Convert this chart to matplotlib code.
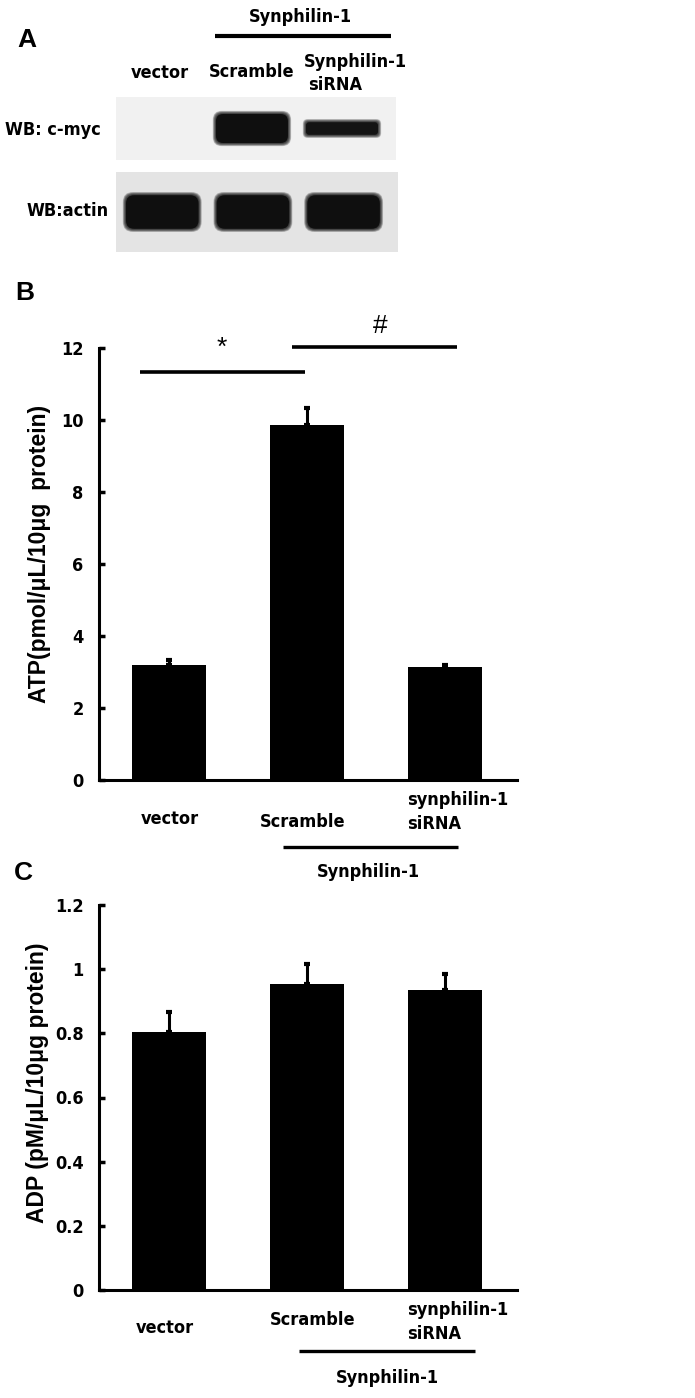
#!/usr/bin/env python3

# import packages
import matplotlib
matplotlib.use('Agg')
import matplotlib.pyplot as plt
from matplotlib.lines import Line2D
from matplotlib.patches import FancyBboxPatch
import numpy as np

# figure size in pixels
W, H = 695, 1398

# data
groups = ['vector', 'Scramble', 'synphilin-1\nsiRNA']
atp_mean = [3.2, 9.87, 3.15]
atp_err = [0.12, 0.45, 0.05]
adp_mean = [0.805, 0.955, 0.935]
adp_err = [0.06, 0.06, 0.05]
atp_ticks = [0, 2, 4, 6, 8, 10, 12]
adp_ticks = [0, 0.2, 0.4, 0.6, 0.8, 1, 1.2]
adp_ticklabels = ['0', '0.2', '0.4', '0.6', '0.8', '1', '1.2']

# western blot: relative band thickness per lane (fraction of strip height)
cmyc_band = [0.0, 0.46, 0.2]
cmyc_dark = [0.0, 1.0, 0.85]
actin_band = [0.42, 0.42, 0.42]
actin_dark = [1.0, 1.0, 1.0]

# significance bars for panel B: (x start, x end, y, symbol, symbol x, symbol y)
sig = [(-0.21, 0.985, 11.33, '*', 0.385, 12.0),
       (0.89, 2.085, 12.03, '#', 1.53, 12.6)]

NARROW = dict(family='DejaVu Sans', stretch='condensed', fontweight='bold')
WIDE = dict(family='Liberation Sans', fontweight='bold')


def box(x0, y0, x1, y1):
    # pixel box -> figure fraction [left, bottom, width, height]
    return [x0 / W, 1 - y1 / H, (x1 - x0) / W, (y1 - y0) / H]


def ftext(x, y, s, size=13, font=NARROW, **kw):
    fig.text(x / W, 1 - y / H, s, fontsize=size,
             ha=kw.pop('ha', 'center'), va=kw.pop('va', 'center'), **font, **kw)


def fline(x0, x1, y, lw=2.4):
    fig.add_artist(Line2D([x0 / W, x1 / W], [1 - y / H, 1 - y / H],
                          color='black', lw=lw, solid_capstyle='butt'))


fig = plt.figure(figsize=(W / 100, H / 100), dpi=100)

# ---------------- panel A (blot) ----------------
ftext(27, 40, 'A', size=19, font=WIDE)
ftext(300, 17, 'Synphilin-1')
fline(215, 391, 36, lw=3)
ftext(160, 73, 'vector')
ftext(252, 72, 'Scramble')
ftext(355, 62, 'Synphilin-1')
ftext(308, 85, 'siRNA', ha='left')
ftext(5, 130, 'WB: c-myc', ha='left')
ftext(27, 211, 'WB:actin', ha='left')


def blot(px_box, bands, dark, bg):
    ax = fig.add_axes(box(*px_box))
    ax.set_xlim(-0.51, 2.6)
    ax.set_ylim(0, 1)
    ax.set_facecolor(bg)
    ax.set_xticks([])
    ax.set_yticks([])
    for s in ax.spines.values():
        s.set_visible(False)
    # pixel size of one unit in x and y, for round corners
    ux = (px_box[2] - px_box[0]) / 3.11
    uy = px_box[3] - px_box[1]
    asp = ux / uy
    lanes = np.arange(len(bands))
    for lane, h, d in zip(lanes, bands, dark):
        if h <= 0:
            continue
        g = 0.06 + 0.12 * (1 - d)
        # soft edge layers, then solid core
        for k in np.linspace(0.07, 0.0, 8):
            w = 0.8 + k
            hh = h + k * asp
            r = min(hh / asp, w) * 0.25
            ax.add_patch(FancyBboxPatch((lane - w / 2, 0.5 - hh / 2), w, hh,
                                        boxstyle=f'round,pad=0,rounding_size={r}',
                                        mutation_aspect=asp, color=str(g),
                                        alpha=0.2 if k > 0 else 1.0, lw=0))
    return ax


blot((116, 97, 396, 160), cmyc_band, cmyc_dark, '#f1f1f1')
blot((116, 172, 398, 252), actin_band, actin_dark, '#e4e4e4')


# ---------------- bar panels ----------------
def bar_panel(rect, means, errs, ticks, ticklabels, top):
    ax = fig.add_axes(rect)
    x = np.arange(len(means))
    ax.bar(x, means, width=0.53, color='black', zorder=2)
    ax.errorbar(x, means, yerr=[np.zeros(len(errs)), errs], fmt='none',
                ecolor='black', elinewidth=2.2, capsize=2.5, capthick=3, zorder=1)
    ax.set_xlim(-0.507, 2.522)
    ax.set_ylim(0, top)
    ax.set_yticks(ticks)
    ax.set_yticklabels(ticklabels, fontsize=13, **NARROW)
    ax.set_xticks([])
    ax.tick_params(axis='y', direction='in', length=4, width=2.5, pad=11)
    for s in ['top', 'right']:
        ax.spines[s].set_visible(False)
    for s in ['left', 'bottom']:
        ax.spines[s].set_linewidth(2.2)
    ax.patch.set_alpha(0)
    return ax


# panel B
ftext(25, 293, 'B', size=19, font=WIDE)
axb = bar_panel(box(99, 348, 517, 780), atp_mean, atp_err, atp_ticks,
                [str(t) for t in atp_ticks], 12)
for x0, x1, y, sym, sx, sy in sig:
    axb.plot([x0, x1], [y, y], color='black', lw=2.6, clip_on=False,
             solid_capstyle='butt')
    axb.text(sx, sy, sym, ha='center', va='center',
             fontsize=19, family='Liberation Sans', clip_on=False)
ftext(40, 554, 'ATP(pmol/\u03bcL/10\u03bcg  protein)', size=16.5, font=WIDE,
      rotation=90)
ftext(170, 819, groups[0])
ftext(303, 822, groups[1])
ftext(407, 812, groups[2], ha='left', linespacing=1.45)
fline(283, 458, 847)
ftext(368, 872, 'Synphilin-1')

# panel C
ftext(23, 873, 'C', size=19, font=WIDE)
axc = bar_panel(box(99, 905, 517, 1290), adp_mean, adp_err, adp_ticks,
                adp_ticklabels, 1.2)
ftext(38, 1083, 'ADP (pM/\u03bcL/10\u03bcg protein)', size=16.5, font=WIDE,
      rotation=90)
ftext(165, 1328, groups[0])
ftext(313, 1320, groups[1])
ftext(407, 1322, groups[2], ha='left', linespacing=1.45)
fline(299, 475, 1351)
ftext(387, 1378, 'Synphilin-1')

fig.savefig('out.png', dpi=100)
